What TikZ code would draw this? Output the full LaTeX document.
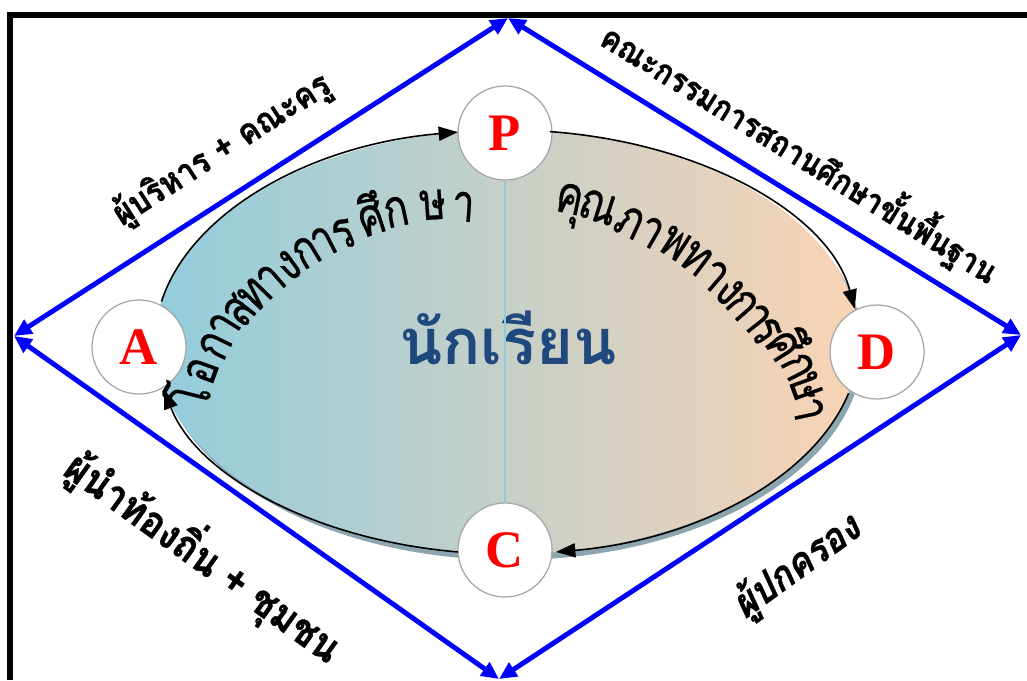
\documentclass[tikz,border=0pt]{standalone}
\usepackage{fontspec}
\usetikzlibrary{arrows.meta}
\newfontfamily\thaifont[Script=Thai]{Loma}
\newfontfamily\rolefont[Script=Thai, FakeStretch=0.88, FakeBold=1]{Loma}
\newfontfamily\parentfont[Script=Thai, FakeStretch=0.88, FakeSlant=0.2, FakeBold=1]{Loma}
\newfontfamily\arcfont[Script=Thai, FakeStretch=0.76, FakeBold=0.6]{Loma}
\newfontfamily\letterfont{Liberation Serif}
\definecolor{lineblue}{RGB}{0,0,255}
\definecolor{leftfill}{RGB}{146,205,220}
\definecolor{rightfill}{RGB}{250,211,180}
\definecolor{titleblue}{RGB}{31,73,125}
\definecolor{ringgray}{RGB}{166,166,166}
\definecolor{shadowgray}{RGB}{140,165,175}
\definecolor{midline}{RGB}{146,205,220}

\tikzset{
  link/.style={draw=lineblue, line width=2.8pt,
    {Triangle[length=10pt,width=9pt]}-{Triangle[length=10pt,width=9pt]}},
  stage/.style={circle, draw=ringgray, fill=white, line width=0.7pt,
    minimum size=53.5pt, inner sep=0pt, text=red,
    font=\letterfont\bfseries\fontsize{30}{30}\selectfont},
  role/.style={font=\rolefont\bfseries\fontsize{20}{22}\selectfont},
  arctext/.style={font=\arcfont\fontsize{30}{30}\selectfont,
    text height=13pt, text depth=0pt, inner sep=0pt},
  flow/.style={draw=black, line width=0.9pt, -{Triangle[length=11pt,width=8pt]}},
}

\begin{document}
\begin{tikzpicture}[x=0.02cm, y=-0.02cm]
    \useasboundingbox (0,0) rectangle (1027,680);
    \coordinate (top) at (508,18);
    \coordinate (left) at (14,336);
    \coordinate (right) at (1021,335);
    \coordinate (bottom) at (499,679);
    \coordinate (ctr) at (507,342);

    % ellipse
    \fill[shadowgray] ([shift={(4,6)}]ctr) ellipse [x radius=352, y radius=212];
    \shade[left color=leftfill, right color=rightfill] (ctr) ellipse [x radius=352, y radius=212];
    \node[font=\thaifont\bfseries\fontsize{36}{38}\selectfont, text=titleblue] (pupil) at (508,338) {นักเรียน};

    \node[stage] (P) at (505,133) {P};
    \node[stage] (A) at (139,347) {A};
    \node[stage] (D) at (877,352) {D};
    \node[stage] (C) at (505,550) {C};
    \draw[midline, line width=0.8pt] (P) -- (C);

    \draw[flow] ([shift={(191:352 and 212)}]ctr) arc[start angle=191, end angle=262, x radius=352, y radius=212];
    \draw[flow] ([shift={(277:352 and 212)}]ctr) arc[start angle=277, end angle=351, x radius=352, y radius=212];
    \draw[flow] ([shift={(14:352 and 212)}]ctr) arc[start angle=14, end angle=82, x radius=352, y radius=212];
    \draw[flow] ([shift={(98:352 and 212)}]ctr) arc[start angle=98, end angle=167, x radius=352, y radius=212];

    % curved texts
    \foreach \x/\y/\r/\t [count=\i] in {198/398/76/โ, 205/372/70/อ, 218/347/64/ก, 227/328/58/า,
        242/313/52/ส, 257/297/46/ท, 273/282/41/า, 290/268/36/ง, 308/255/31/ก, 325/245/27/า,
        345/237/23/ร, 373/223/18/ศึ, 397/215/12/ก, 433/208/4/ษ, 463/210/-4/า}
        \node[arctext, rotate=\r] (chance\i) at (\x,\y) {\t};
    \foreach \x/\y/\r/\t [count=\i] in {569/202/-12/คุ, 597/210/-18/ณ, 628/225/-25/ภ, 649/235/-30/า,
        673/246/-33/พ, 694/261/-37/ท, 712/278/-41/า, 727/293/-45/ง, 740/307/-49/ก, 753/320/-52/า,
        763/333/-55/ร, 780/348/-58/ศึ, 795/368/-63/ก, 803/388/-70/ษ, 805/410/-78/า}
        \node[arctext, rotate=\r] (quality\i) at (\x,\y) {\t};

    % outer diamond
    \draw[link] (left) -- (top);
    \draw[link] (top) -- (right);
    \draw[link] (left) -- (bottom);
    \draw[link] (right) -- (bottom);

    \node[role, rotate=32.7] (staff) at (222,150) {ผู้บริหาร + คณะครู};
    \node[role, rotate=-31.7, font=\rolefont\bfseries\fontsize{19}{21}\selectfont] (board) at (800,153) {คณะกรรมการสถานศึกษาขั้นพื้นฐาน};
    \node[role, rotate=-35.6, font=\rolefont\bfseries\fontsize{24}{26}\selectfont] (community) at (204,556) {ผู้นำท้องถิ่น + ชุมชน};
    \node[role, rotate=36, font=\parentfont\bfseries\fontsize{23}{25}\selectfont] (parents) at (797,567) {ผู้ปกครอง};

    \draw[line width=3.4pt] (10,680) -- (10,15) -- (1027,15);
\end{tikzpicture}
\end{document}
